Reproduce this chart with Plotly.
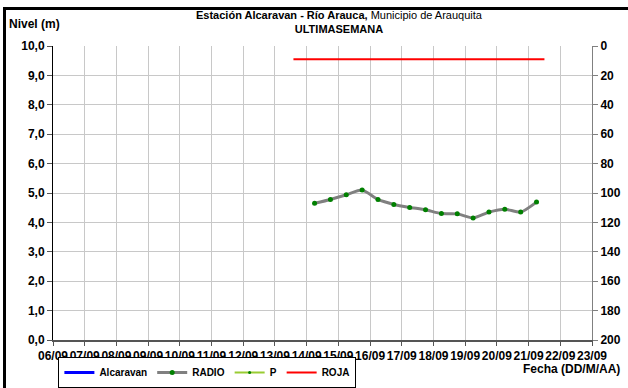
import plotly.graph_objects as go
import base64

# ---- data ----
day_labels = ["06/09", "07/09", "08/09", "09/09", "10/09", "11/09", "12/09", "13/09", "14/09",
              "15/09", "16/09", "17/09", "18/09", "19/09", "20/09", "21/09", "22/09", "23/09"]
radio_times = ["2010-09-14 06:00", "2010-09-14 18:00", "2010-09-15 06:00", "2010-09-15 18:00",
               "2010-09-16 06:00", "2010-09-16 18:00", "2010-09-17 06:00", "2010-09-17 18:00",
               "2010-09-18 06:00", "2010-09-18 18:00", "2010-09-19 06:00", "2010-09-19 18:00",
               "2010-09-20 06:00", "2010-09-20 18:00", "2010-09-21 06:00"]
radio_levels = [4.65, 4.78, 4.94, 5.10, 4.78, 4.61, 4.51, 4.43, 4.30, 4.29, 4.15, 4.35, 4.45, 4.35, 4.69]
roja_times = ["2010-09-13 14:00", "2010-09-21 12:00"]
roja_levels = [9.55, 9.55]
axis_start = "2010-09-06"
axis_end = "2010-09-23"
rain_ticks = [0, 20, 40, 60, 80, 100, 120, 140, 160, 180, 200]

FONT = "Liberation Sans, Arial, sans-serif"

fig = go.Figure()
fig.add_trace(go.Scatter(x=[None], y=[None], name="Alcaravan", mode="lines",
                         line=dict(color="#0000FF", width=3)))
fig.add_trace(go.Scatter(x=radio_times, y=radio_levels, name="RADIO", mode="lines+markers",
                         line=dict(color="#808080", width=3, shape="spline", smoothing=0.6),
                         marker=dict(color="#008000", size=5)))
fig.add_trace(go.Scatter(x=[None], y=[None], name="P", mode="lines+markers", yaxis="y2",
                         line=dict(color="#99CC33", width=2),
                         marker=dict(color="#008000", size=3)))
fig.add_trace(go.Scatter(x=roja_times, y=roja_levels, name="ROJA", mode="lines",
                         line=dict(color="#FF0000", width=2)))

tick_vals = [f"2010-09-{int(d[:2]):02d}" for d in day_labels]

fig.update_layout(
    width=628, height=388,
    margin=dict(l=53, r=36, t=46, b=48, autoexpand=False),
    paper_bgcolor="white", plot_bgcolor="white",
    separators=",.",
    font=dict(family=FONT, size=11, color="black"),
    showlegend=True,
    legend=dict(orientation="h", x=0.01, y=-0.058, xanchor="left", yanchor="top",
                bordercolor="black", borderwidth=1,
                font=dict(family=FONT, size=10, weight="bold"),
                itemwidth=30, tracegroupgap=0),
    xaxis=dict(type="date", range=[axis_start, axis_end],
               tickvals=tick_vals, ticktext=day_labels, tickangle=0,
               showgrid=True, gridcolor="#C8C8C8", gridwidth=1,
               showline=True, linecolor="#555555", linewidth=2,
               ticks="outside", ticklen=4, tickcolor="#555555",
               tickfont=dict(family=FONT, size=12, weight="bold"),
               zeroline=False, automargin=False),
    yaxis=dict(range=[0, 10], dtick=1, tickformat=".1f",
               showgrid=True, gridcolor="#C8C8C8", gridwidth=1,
               showline=True, linecolor="black", linewidth=1,
               ticks="outside", ticklen=5, tickcolor="#555555",
               tickfont=dict(family=FONT, size=12, weight="bold"),
               zeroline=False, automargin=False),
    yaxis2=dict(overlaying="y", side="right", range=[200, 0],
                tickvals=rain_ticks, showgrid=False,
                showline=True, linecolor="#808080", linewidth=1,
                ticks="outside", ticklen=5, tickcolor="#808080",
                tickfont=dict(family=FONT, size=12, weight="bold"),
                zeroline=False, automargin=False),
)

fig.add_annotation(xref="paper", yref="paper", x=0.532, y=1.0, yanchor="bottom", yshift=9,
                   text="<b>Estación Alcaravan - Río Arauca,</b> Municipio de Arauquita<br><b>ULTIMASEMANA</b>",
                   showarrow=False, font=dict(family=FONT, size=11), align="center")
fig.add_annotation(xref="paper", yref="paper", x=-0.085, y=1.0, xanchor="left", yanchor="bottom",
                   yshift=13, text="<b>Nivel (m)</b>", showarrow=False,
                   font=dict(family=FONT, size=12))
fig.add_annotation(xref="paper", yref="paper", x=1.055, y=-0.098, xanchor="right", yanchor="middle",
                   text="<b>Fecha (DD/M/AA)</b>", showarrow=False,
                   font=dict(family=FONT, size=12))

# black frame on top and left edges: filled rectangles in paper coordinates
# left bar: pixels x 3..6 ; top bar: pixels y 7..10
px_w, px_h = 539.0, 294.0
def px_x(p):
    return (p - 53) / px_w
def px_y(p):
    return (340 - p) / px_h
fig.add_shape(type="rect", xref="paper", yref="paper", layer="above",
              x0=px_x(3), x1=px_x(6), y0=px_y(400), y1=px_y(7),
              fillcolor="black", line=dict(width=0))
fig.add_shape(type="rect", xref="paper", yref="paper", layer="above",
              x0=px_x(3), x1=px_x(640), y0=px_y(10), y1=px_y(7),
              fillcolor="black", line=dict(width=0))

svg = ('<svg xmlns="http://www.w3.org/2000/svg" width="10" height="10">'
       '<rect width="10" height="10" fill="black"/></svg>')
uri = "data:image/svg+xml;base64," + base64.b64encode(svg.encode()).decode()
fig.add_layout_image(source=uri, xref="paper", yref="paper", x=px_x(3), y=px_y(7),
                     sizex=px_x(6) - px_x(3), sizey=px_y(7) - px_y(400),
                     sizing="stretch", xanchor="left", yanchor="top", layer="above")
fig.add_layout_image(source=uri, xref="paper", yref="paper", x=px_x(3), y=px_y(7),
                     sizex=px_x(640) - px_x(3), sizey=px_y(7) - px_y(10),
                     sizing="stretch", xanchor="left", yanchor="top", layer="above")

fig.write_html("out.html", config={"displayModeBar": False},
               post_script="document.body.style.margin='0';")
